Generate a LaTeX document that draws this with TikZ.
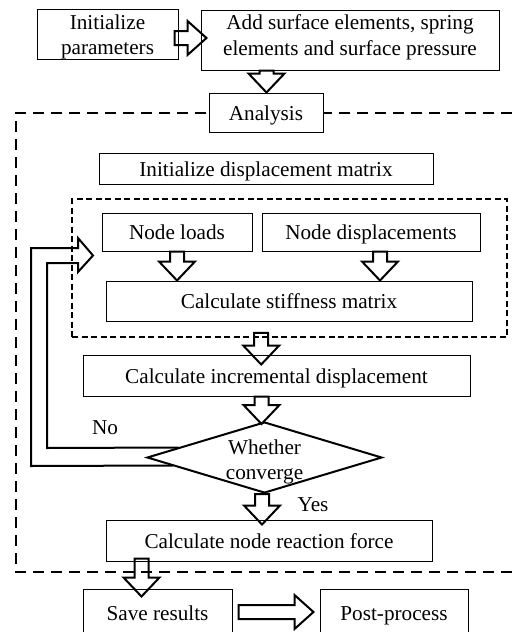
\documentclass[tikz,border=0pt]{standalone}
\usepackage{fontspec}
\setmainfont{Liberation Serif}
\usetikzlibrary{shapes.geometric,calc}
\newcommand\bdown[2]{\draw[barrow] let \p1=#1, \p2=#2 in
  (\x1-7pt,\y1) -- (\x1-7pt,\y2+19pt) -- (\x1-18pt,\y2+19pt) -- (\x1,\y2)
  -- (\x1+18pt,\y2+19pt) -- (\x1+7pt,\y2+19pt) -- (\x1+7pt,\y1) -- cycle;}
\newcommand\bright[2]{\draw[barrow] let \p1=#1, \p2=#2 in
  (\x1,\y1+7pt) -- (\x2-19pt,\y1+7pt) -- (\x2-19pt,\y1+17pt) -- (\x2,\y1)
  -- (\x2-19pt,\y1-17pt) -- (\x2-19pt,\y1-7pt) -- (\x1,\y1-7pt) -- cycle;}
\begin{document}
\begin{tikzpicture}[x=1pt,y=-1pt,
  txt/.style={font=\fontsize{21.2}{25}\selectfont, align=center, inner sep=0pt},
  box/.style={txt, draw, line width=1pt, fill=white},
  onebox/.style={box, text height=15.5pt, text depth=0pt},
  barrow/.style={draw, line width=2pt, line join=miter},
  outerdash/.style={line width=2pt, dash pattern=on 11pt off 7pt},
  innerdash/.style={draw, line width=1.6pt, dash pattern=on 6pt off 3.5pt}]
\useasboundingbox (0,0) rectangle (519,632);
% outer dashed frame
\draw[outerdash] (530,113) -- (16,113) -- (16,572) -- (530,572);
% inner dashed frame
\node[innerdash, minimum width=435pt, minimum height=138pt, inner sep=0pt] (loop) at (289.5,268) {};
% boxes
\node[box, minimum width=141pt, minimum height=48pt] (init) at (107.5,34)
  {\raisebox{-2.7pt}[\height][\depth]{\begin{tabular}{@{}c@{}}Initialize\\[0pt]parameters\end{tabular}}};
\node[box, minimum width=298pt, minimum height=60pt] (add) at (350,40)
  {\raisebox{2.5pt}[\height][\depth]{\begin{tabular}{@{}c@{}}Add surface elements, spring\\[1pt]elements and surface pressure\end{tabular}}};
\node[onebox, minimum width=114pt, minimum height=39pt] (ana) at (266,112.5) {Analysis};
\node[onebox, minimum width=334pt, minimum height=31pt] (idm) at (266,168.5) {Initialize displacement matrix};
\node[onebox, minimum width=150pt, minimum height=38pt] (nl) at (177,232) {Node loads};
\node[onebox, minimum width=218pt, minimum height=38pt] (nd) at (371,232) {Node displacements};
\node[onebox, minimum width=366pt, minimum height=40pt] (csm) at (289,301) {Calculate stiffness matrix};
\node[onebox, minimum width=387pt, minimum height=41pt] (cid) at (276.5,375.5) {Calculate incremental displacement};
\node[draw, line width=2pt, diamond, minimum width=235pt, minimum height=71pt, inner sep=0pt, fill=white] (dia) at (264.5,457.5) {};
\node[txt] (diat) at ($(dia.center)+(0,4.5)$) {Whether\\converge};
\node[onebox, minimum width=326pt, minimum height=41pt] (cnr) at (269,540.5) {Calculate node reaction force};
\node[onebox, minimum width=149pt, minimum height=48pt] (save) at (157.5,613) {Save results};
\node[onebox, minimum width=148pt, minimum height=48pt] (post) at (394,613) {Post-process};
% labels
\node[txt] (no) at (105,428) {No};
\node[txt] (yes) at (313,505) {Yes};
% block arrows
\bright{($(init.east)+(-4,4)$)}{($(add.west)+(6,0)$)}
\bdown{($(add.south west)+(66,0)$)}{(ana.north)}
\bdown{(nl.south)}{(csm.north)}
\bdown{($(nd.south)+(9,0)$)}{(csm.north)}
\bdown{($(loop.south west)+(190,-5)$)}{($(cid.north)+(0,10)$)}
\bdown{($(cid.south west)+(179,0)$)}{($(dia.north)+(0,3)$)}
\bdown{($(dia.south)+(-2.5,0)$)}{($(cnr.north)+(0,5)$)}
\bdown{($(cnr.south west)+(36,-3)$)}{($(save.north)+(0,8)$)}
\bright{($(save.east)+(6,-1)$)}{($(post.west)+(-6,0)$)}
% feedback block arrow
\coordinate (fbin) at ($(dia.west)+(32.6,-10)$);
\coordinate (fbout) at ($(dia.west)+(26.9,8)$);
\draw[barrow] (fbin) -- (47,448) -- (47,263) -- (78,263) -- (78,272) -- (93,255.5)
  -- (78,238) -- (78,248) -- (31,248) -- (31,466) -- (fbout);
\end{tikzpicture}
\end{document}
